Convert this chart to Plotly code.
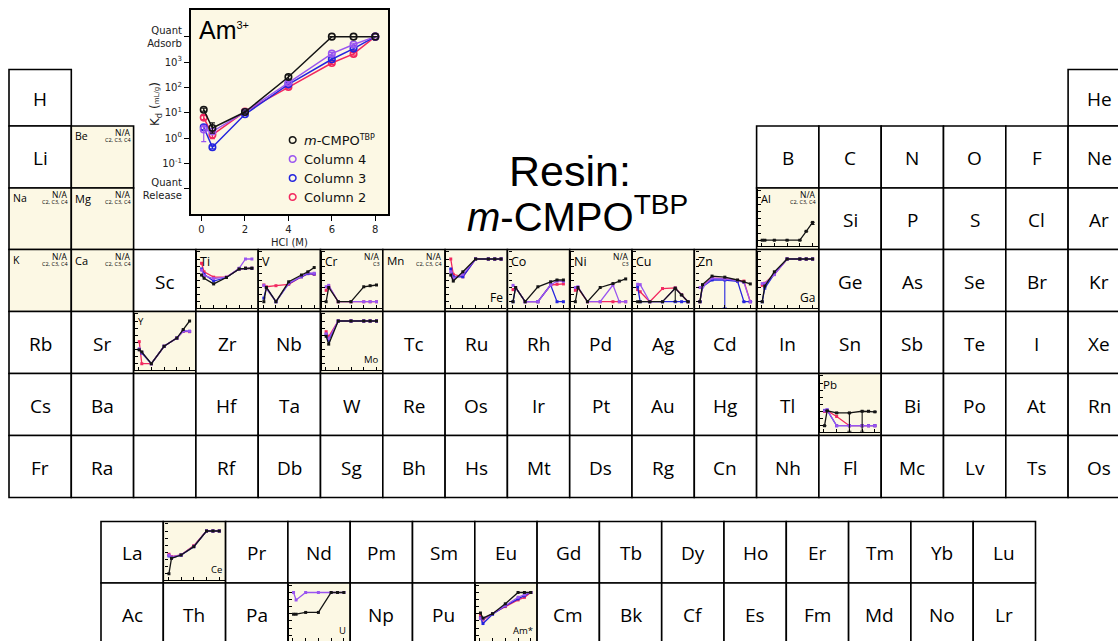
import plotly.graph_objects as go

FIG_W, FIG_H = 1118, 641

# ------------------------------------------------------------------ data
HCL = [0.1, 0.5, 2, 4, 6, 7, 8]          # HCl molarity of each point
X_TICKS = [0, 2, 4, 6, 8]
KD_LEVELS = [-2, -1, 0, 1, 2, 3, 4]       # log10(Kd); -2 / 4 = quant release / adsorb
KD_LABELS = ["Quant<br>Release", "10<sup>-1</sup>", "10<sup>0</sup>", "10<sup>1</sup>",
             "10<sup>2</sup>", "10<sup>3</sup>", "Quant<br>Adsorb"]
MINI_TICKS = [-2, -1, 0, 1, 2, 3, 4, 5]

SERIES_KEYS = ["col2", "col3", "col4", "mcmpo"]              # draw order
LEGEND_KEYS = ["mcmpo", "col4", "col3", "col2"]
SERIES_NAMES = {"mcmpo": "<i>m</i>-CMPO<sup><span style='font-size:8px'>TBP</span></sup>",
                "col4": "Column 4", "col3": "Column 3", "col2": "Column 2"}

# Am(3+) inset (log10 Kd)
AM_MCMPO = [1.12, 0.40, 1.03, 2.41, 4.0, 4.0, 4.0]
AM_COL4 = [0.34, 0.26, 1.03, 2.19, 3.33, 3.69, 4.0]
AM_COL3 = [0.43, -0.36, 0.94, 2.12, 3.11, 3.53, 4.0]
AM_COL2 = [0.81, 0.13, 1.05, 2.02, 2.96, 3.32, 4.0]
AM_MCMPO_ERR = [0.06, 0.2, 0.04, 0.08, 0, 0, 0]
AM_COL4_ERR_UP = [0.16, 0.05, 0.03, 0.05, 0.05, 0.05, 0]
AM_COL4_ERR_DOWN = [0.48, 0.05, 0.03, 0.05, 0.05, 0.05, 0]
AM_COL3_ERR = [0.1, 0.06, 0.03, 0.05, 0.05, 0.05, 0]
AM_COL2_ERR = [0.08, 0.15, 0.03, 0.05, 0.05, 0.05, 0]

AL = {"mcmpo": [-2, -2, -2, -2, -2, -0.75, 0.5]}
TI = {"mcmpo": [1.75, 1.3, 0.5, 1.4, 2.6, 2.7, 2.7],
      "col4": [2.45, 1.65, 1.25, 1.45, 2.7, 4, 4],
      "col3": [2.6, 1.85, 0.9, 1.4, 2.6, 2.7, 2.7],
      "col2": [3.4, 2.2, 1.45, 1.45, 2.6, 2.7, 2.7]}
V = {"mcmpo": [-2, 0.0, -2, 0.8, 1.75, 2.2, 2.8],
     "col4": [0.3, -0.2, -2, 0.6, 1.6, 2.05, 2.0],
     "col3": [-1.5, 0.0, -2, 0.55, 1.5, 1.95, 1.9],
     "col2": [0.35, 0.1, 0.25, 0.45, 1.5, 1.95, 1.85]}
CR = {"mcmpo": [-2, 0.0, -2, -2, 0.1, 0.25, 0.35],
      "col4": [0.1, 0.3, -2, -2, -2, -2, -2],
      "col2": [-0.4, 0.2, -2, -2, -2, -2, -2]}
FE = {"mcmpo": [1.75, 0.9, 2.2, 4, 4, 4, 4],
      "col4": [2.2, 1.3, 1.85, 4, 4, 4, 4],
      "col3": [2.6, 1.5, 1.5, 4, 4, 4, 4],
      "col2": [4, 1.85, 1.5, 4, 4, 4, 4]}
CO = {"mcmpo": [-2, 0.0, -2, 0.1, 0.8, 1.05, 1.05],
      "col4": [0.3, 0.0, -2, -2, 0.35, 0.9, 0.85],
      "col3": [-2, 0.0, -2, -2, 0.35, -2, -2],
      "col2": [-0.3, 0.0, -2, -2, 0.35, 0.45, 0.5]}
NI = {"mcmpo": [-2, 0.0, -2, 0.0, 0.55, 0.9, 1.2],
      "col4": [0.0, 0.1, -2, -2, 0.35, -2, -2],
      "col2": [-0.4, -0.1, -2, -2, -2, -2, -2]}
CU = {"mcmpo": [-2, -2, -2, -2, -0.1, -1.05, -2],
      "col4": [0.45, 0.4, -2, -2, -0.1, -1.05, -2],
      "col3": [0.1, -2, -2, -2, -2, -2, -2],
      "col2": [-0.3, -0.6, -2, -0.15, -0.05, -1.0, -2]}
ZN = {"mcmpo": [-2, 0.4, 1.6, 1.45, 1.05, 0.8, 0.5],
      "col4": [0.0, 0.1, 1.3, 1.2, 0.95, 0.7, -2],
      "col3": [-2, 0.1, 1.05, 1.05, 0.85, -2, -2],
      "col2": [-2, 0.2, 1.3, 1.25, 1.0, 0.9, -2]}
GA = {"mcmpo": [-2, 0.2, 2.2, 4, 4, 4, 4],
      "col4": [0.55, 0.55, 1.8, 4, 4, 4, 4],
      "col3": [-2, -0.1, 1.9, 4, 4, 4, 4],
      "col2": [0.3, 0.6, 1.85, 4, 4, 4, 4]}
Y = {"mcmpo": [-0.05, -0.35, -2, 0.45, 1.6, 2.8, 4],
     "col4": [0.1, -0.4, -2, 0.45, 1.6, 2.6, 2.55],
     "col3": [0.0, -0.5, -2, 0.45, 1.6, 2.6, 2.55],
     "col2": [1.1, -2, -2, 0.45, 1.6, 2.55, 2.5]}
MO = {"mcmpo": [1.85, 0.75, 4, 4, 4, 4, 4],
      "col4": [2.2, 1.5, 4, 4, 4, 4, 4],
      "col3": [2.1, 1.3, 4, 4, 4, 4, 4],
      "col2": [2.5, 1.8, 4, 4, 4, 4, 4]}
PB = {"mcmpo": [-2, 0.1, -0.2, -0.2, 0.03, 0.03, -0.05],
      "col4": [0.1, 0.25, -2, -2, -2, -2, -2],
      "col3": [0.15, 0.2, -2, -2, -2, -2, -2],
      "col2": [0.0, 0.1, -0.7, -2, -2, -2, -2]}
CE = {"mcmpo": [-2, 0.17, 0.63, 1.8, 4, 4, 4],
      "col4": [0.6, 0.35, 0.65, 1.85, 4, 4, 4],
      "col3": [0.5, 0.2, 0.6, 1.8, 4, 4, 4],
      "col2": [0.73, 0.4, 0.63, 1.95, 4, 4, 4]}
U = {"mcmpo": [0.95, 0.95, 1.2, 1.2, 4, 4, 4],
     "col4": [4, 2.95, 4, 4, 4, 4, 4]}
AM = {"mcmpo": AM_MCMPO, "col4": AM_COL4, "col3": AM_COL3, "col2": AM_COL2}

MINI_ERR_MINUS = {("Zn", "col3"): [0, 0, 0, 3.9, 0, 0, 0],
                  ("Pb", "mcmpo"): [0, 0, 0, 2.6, 2.8, 0, 0],
                  ("Cu", "mcmpo"): [0, 0, 0, 0, 1.9, 0, 0],
                  ("Al", "mcmpo"): [0, 0, 0, 0, 0, 0, 0.3]}

MINI_DATA = {"Al": AL, "Ti": TI, "V": V, "Cr": CR, "Fe": FE, "Co": CO, "Ni": NI,
             "Cu": CU, "Zn": ZN, "Ga": GA, "Y": Y, "Mo": MO, "Pb": PB,
             "Ce": CE, "U": U, "Am": AM}

NA_NOTES = {"Be": "C2, C3, C4", "Na": "C2, C3, C4", "Mg": "C2, C3, C4",
            "K": "C2, C3, C4", "Ca": "C2, C3, C4", "Mn": "C2, C3, C4",
            "Al": "C2, C3, C4", "Cr": "C3", "Ni": "C3"}

PERIODS = [
    ["H"] + [None] * 16 + ["He"],
    ["Li", "Be"] + [None] * 10 + ["B", "C", "N", "O", "F", "Ne"],
    ["Na", "Mg"] + [None] * 10 + ["Al", "Si", "P", "S", "Cl", "Ar"],
    ["K", "Ca", "Sc", "Ti", "V", "Cr", "Mn", "Fe", "Co", "Ni", "Cu", "Zn", "Ga", "Ge",
     "As", "Se", "Br", "Kr"],
    ["Rb", "Sr", "Y", "Zr", "Nb", "Mo", "Tc", "Ru", "Rh", "Pd", "Ag", "Cd", "In", "Sn",
     "Sb", "Te", "I", "Xe"],
    ["Cs", "Ba", "", "Hf", "Ta", "W", "Re", "Os", "Ir", "Pt", "Au", "Hg", "Tl", "Pb",
     "Bi", "Po", "At", "Rn"],
    ["Fr", "Ra", "", "Rf", "Db", "Sg", "Bh", "Hs", "Mt", "Ds", "Rg", "Cn", "Nh", "Fl",
     "Mc", "Lv", "Ts", "Os"],
]
F_BLOCK = [
    ["La", "Ce", "Pr", "Nd", "Pm", "Sm", "Eu", "Gd", "Tb", "Dy", "Ho", "Er", "Tm", "Yb", "Lu"],
    ["Ac", "Th", "Pa", "U", "Np", "Pu", "Am", "Cm", "Bk", "Cf", "Es", "Fm", "Md", "No", "Lr"],
]

# ------------------------------------------------------------------ style / geometry
COLORS = {"mcmpo": "#141414", "col4": "#9A55F0", "col3": "#2424DE", "col2": "#F2285F"}
BEIGE = "#FCF8E4"
X0, CW = 9.0, 62.3
ROW_EDGES = [69.5, 126, 188, 249.5, 311.5, 373.5, 435.5, 497.5]
F_X0 = 101.0
F_EDGES = [521.5, 583, 645]
SYM_FONT = "Open Sans"
AX_FONT = "DejaVu Sans"
BR_LABELS = {"Fe": 12, "Ga": 12, "Mo": 9.5, "Ce": 9.5, "U": 9.5, "Am": 9.5}
TL_LABELS = {"Ti": 12.5, "V": 12.5, "Cr": 12, "Mn": 11.5, "Co": 12.5, "Ni": 12.5, "Cu": 12.5,
             "Zn": 12.5, "Al": 11, "Y": 9.5, "Pb": 11.5, "Be": 10.5, "Na": 10.5,
             "Mg": 11, "K": 10.5, "Ca": 11}
DISPLAY = {"Am": "Am*"}

fig = go.Figure()
shapes, annotations = [], []

def clamp(v):
    return min(max(v, 0.0), 1.0)

def px2dom_x(a, b):
    return [clamp(a / FIG_W), clamp(b / FIG_W)]

def px2dom_y(top, bottom):
    return [clamp(1 - bottom / FIG_H), clamp(1 - top / FIG_H)]

# cells
cells = []
for r, row in enumerate(PERIODS):
    for c, sym in enumerate(row):
        if sym is None:
            continue
        cells.append((sym, r, (X0 + c * CW, ROW_EDGES[r], X0 + (c + 1) * CW, ROW_EDGES[r + 1])))
for r, row in enumerate(F_BLOCK):
    for c, sym in enumerate(row):
        cells.append((sym, 10 + r, (F_X0 + c * CW, F_EDGES[r], F_X0 + (c + 1) * CW, F_EDGES[r + 1])))

special = set(MINI_DATA) | set(NA_NOTES)
cell_box = {}
for sym, r, (l, t, rr, b) in cells:
    is_special = sym in special
    if sym not in cell_box:
        cell_box[sym] = (l, t, rr, b)
    shapes.append(dict(type="rect", xref="x", yref="y", x0=l, x1=rr, y0=t, y1=b,
                       fillcolor=BEIGE if is_special else "white",
                       line=dict(color="black", width=1.6), layer="below"))
    if not sym:
        continue
    if is_special:
        label = DISPLAY.get(sym, sym)
        if sym in BR_LABELS:
            annotations.append(dict(x=rr - 3, y=t + 47.5, text=label, xanchor="right",
                                    yanchor="middle", showarrow=False, borderpad=0,
                                    font=dict(family=SYM_FONT, size=BR_LABELS[sym], color="black")))
        else:
            annotations.append(dict(x=l + 3, y=t + 2, text=label, xanchor="left",
                                    yanchor="top", showarrow=False, borderpad=0,
                                    font=dict(family=SYM_FONT, size=TL_LABELS.get(sym, 11), color="black")))
        if sym in NA_NOTES:
            annotations.append(dict(x=rr - 2, y=t + 6.5, text="N/A", xanchor="right",
                                    yanchor="middle", showarrow=False, borderpad=0,
                                    font=dict(family=SYM_FONT, size=8.5, color="black")))
            annotations.append(dict(x=rr - 2, y=t + 14.2, text=NA_NOTES[sym], xanchor="right",
                                    yanchor="middle", showarrow=False, borderpad=0,
                                    font=dict(family=SYM_FONT, size=5.5, color="black")))
    else:
        annotations.append(dict(x=(l + rr) / 2, y=(t + b) / 2 + 1, text=sym, showarrow=False,
                                xanchor="center", yanchor="middle",
                                font=dict(family=SYM_FONT, size=19, color="black")))

layout_axes = {}
layout_axes["xaxis"] = dict(range=[0, FIG_W], domain=[0, 1], visible=False, fixedrange=True)
layout_axes["yaxis"] = dict(range=[FIG_H, 0], domain=[0, 1], visible=False, fixedrange=True)

# ------------------------------------------------------------------ inset (Am 3+)
IN_L, IN_R, IN_T, IN_B = 190.7, 388.3, 10.0, 214.3
shapes.append(dict(type="rect", xref="x", yref="y", x0=IN_L, x1=IN_R, y0=IN_T, y1=IN_B,
                   fillcolor=BEIGE, line=dict(width=0), layer="below"))
layout_axes["xaxis2"] = dict(domain=px2dom_x(IN_L, IN_R), anchor="y2", range=[-0.5, 8.6],
                             showline=True, linecolor="black", linewidth=1.5, mirror=True,
                             ticks="outside", ticklen=5, tickwidth=1.3, tickcolor="black",
                             tickvals=X_TICKS, showgrid=False, zeroline=False,
                             tickfont=dict(family=AX_FONT, size=10, color="#222"))
layout_axes["yaxis2"] = dict(domain=px2dom_y(IN_T, IN_B), anchor="x2", range=[-3, 5.05],
                             showline=True, linecolor="black", linewidth=1.5, mirror=True,
                             ticks="outside", ticklen=5, tickwidth=1.3, tickcolor="black",
                             tickvals=KD_LEVELS, ticktext=KD_LABELS, showgrid=False,
                             zeroline=False,
                             tickfont=dict(family=AX_FONT, size=10, color="#222"))

AM_ERR = {"mcmpo": (AM_MCMPO_ERR, AM_MCMPO_ERR), "col4": (AM_COL4_ERR_UP, AM_COL4_ERR_DOWN),
          "col3": (AM_COL3_ERR, AM_COL3_ERR), "col2": (AM_COL2_ERR, AM_COL2_ERR)}
for key in SERIES_KEYS:
    up, down = AM_ERR[key]
    fig.add_trace(go.Scatter(x=HCL, y=AM[key], xaxis="x2", yaxis="y2", mode="lines+markers",
                             line=dict(color=COLORS[key], width=1.5),
                             marker=dict(symbol="circle-open", size=6.5, color=COLORS[key],
                                         line=dict(width=1.6)),
                             error_y=dict(type="data", array=up, arrayminus=down,
                                          color=COLORS[key], thickness=1.2, width=2.5),
                             showlegend=False, hoverinfo="skip"))

annotations.append(dict(x=197, y=30, text="Am<sup><span style='font-size:11px'>3+</span></sup>",
                        xanchor="left", yanchor="middle", showarrow=False,
                        font=dict(family="Liberation Sans", size=25, color="black")))
annotations.append(dict(x=156, y=104,
                        text="K<sub>d</sub> (<span style='font-size:7px'>mL/g</span>)",
                        textangle=-90, showarrow=False, xanchor="center", yanchor="middle",
                        font=dict(family=AX_FONT, size=12, color="#222")))
annotations.append(dict(x=289, y=242, text="HCl (M)", showarrow=False, xanchor="center",
                        yanchor="middle", font=dict(family=AX_FONT, size=10, color="#222")))
LEG_X, LEG_Y0, LEG_DY = 292.7, 140, 19
for i, key in enumerate(LEGEND_KEYS):
    cy = LEG_Y0 + i * LEG_DY
    shapes.append(dict(type="circle", xref="x", yref="y", x0=LEG_X - 3.3, x1=LEG_X + 3.3,
                       y0=cy - 3.3, y1=cy + 3.3, line=dict(color=COLORS[key], width=1.5),
                       layer="above"))
    annotations.append(dict(x=LEG_X + 9, y=cy, text=SERIES_NAMES[key], xanchor="left",
                            yanchor="middle", showarrow=False,
                            font=dict(family="DejaVu Sans", size=13, color="#111")))

# ------------------------------------------------------------------ mini charts
PX_PER_X, PX_PER_Y = 6.375, 7.12
n = 3
for sym, data in MINI_DATA.items():
    l, t, rr, b = cell_box[sym]
    bottom = min(t + 58.2, FIG_H)
    x_rng = [-4 / PX_PER_X, 8 + 5.3 / PX_PER_X]
    y_rng = [4 - (bottom - t - 9.5) / PX_PER_Y, 4 + (9.5 - 1.0) / PX_PER_Y]
    xa, ya = f"xaxis{n}", f"yaxis{n}"
    common = dict(showline=True, linecolor="black", linewidth=1.4, ticks="inside", ticklen=3,
                  tickwidth=1.1, tickcolor="black", showticklabels=False, showgrid=False,
                  zeroline=False, fixedrange=True)
    layout_axes[xa] = dict(domain=px2dom_x(l + 1, l + 61.3), anchor=f"y{n}",
                           range=x_rng, tickvals=X_TICKS, **common)
    layout_axes[ya] = dict(domain=px2dom_y(t + 1, bottom), anchor=f"x{n}",
                           range=y_rng, tickvals=MINI_TICKS, **common)
    for key in SERIES_KEYS:
        if key not in data:
            continue
        err = MINI_ERR_MINUS.get((sym, key))
        fig.add_trace(go.Scatter(
            x=HCL, y=data[key], xaxis=f"x{n}", yaxis=f"y{n}", mode="lines+markers",
            line=dict(color=COLORS[key], width=1.3),
            marker=dict(symbol="square", size=3, color=COLORS[key]),
            error_y=(dict(type="data", array=[0] * len(err), arrayminus=err, color=COLORS[key],
                          thickness=1.1, width=2) if err else None),
            showlegend=False, hoverinfo="skip", cliponaxis=False))
    n += 1

# ------------------------------------------------------------------ title
annotations.append(dict(x=570, y=171, text="Resin:", showarrow=False, xanchor="center",
                        yanchor="middle", font=dict(family="Liberation Sans", size=43, color="black")))
annotations.append(dict(x=577, y=214, text="<i>m</i>-CMPO<sup>TBP</sup>", showarrow=False,
                        xanchor="center", yanchor="middle",
                        font=dict(family="Liberation Sans", size=40, color="black")))

fig.update_layout(width=FIG_W, height=FIG_H, margin=dict(l=0, r=0, t=0, b=0),
                  paper_bgcolor="white", plot_bgcolor="rgba(0,0,0,0)",
                  shapes=shapes, annotations=annotations, showlegend=False, **layout_axes)

fig.write_html("out.html", config={"displayModeBar": False},
               post_script="document.body.style.margin='0';")
